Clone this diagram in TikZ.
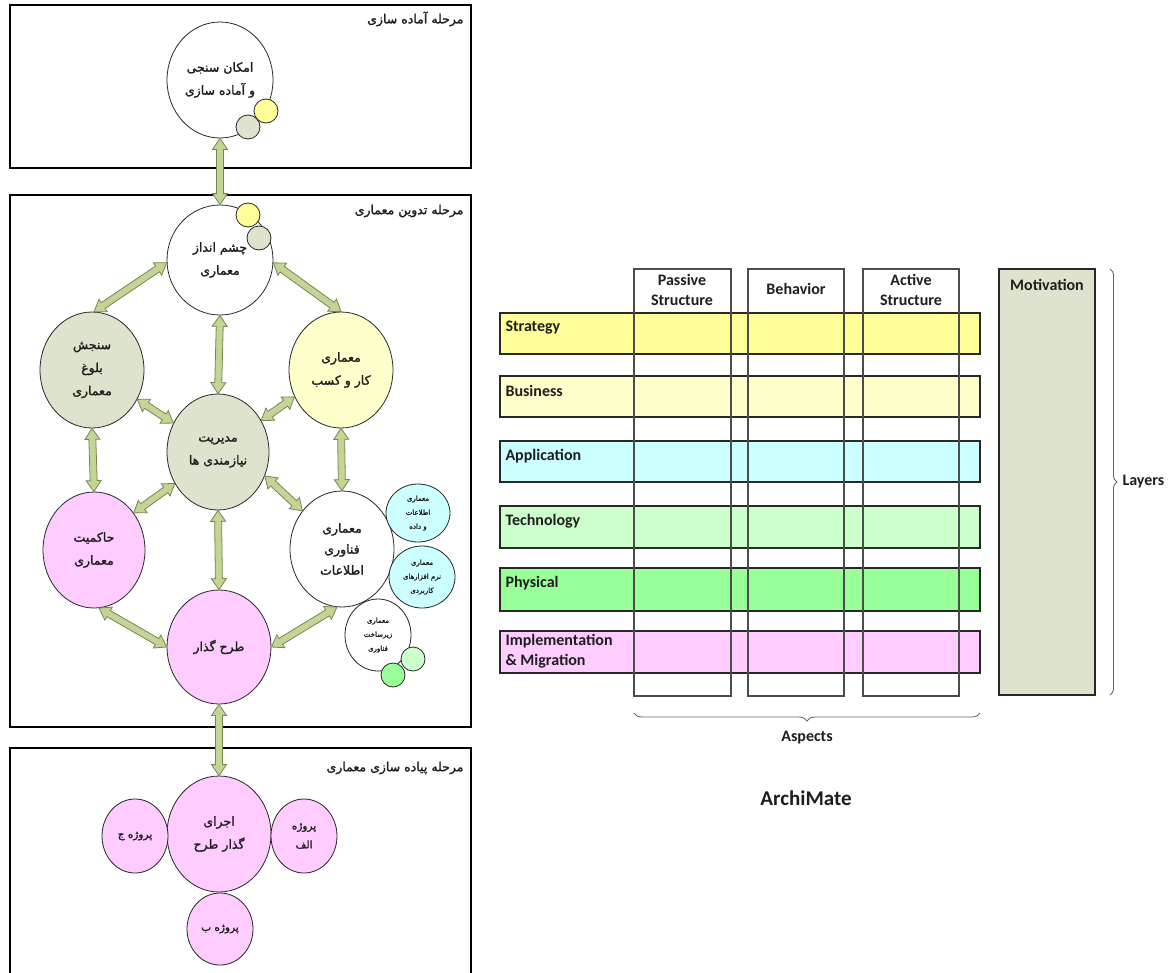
\documentclass[tikz,border=0pt]{standalone}
\usepackage{fontspec}
\setmainfont{Carlito}
\newfontfamily\fafont[Script=Arabic, FakeBold=1.6]{DejaVu Sans}
\TeXXeTstate=1
\usetikzlibrary{shapes.geometric,calc,decorations.pathreplacing}
\newcommand\rl[1]{\beginR #1\endR}
\definecolor{arrfill}{RGB}{196,212,150}
\definecolor{arrdraw}{RGB}{118,135,78}
\definecolor{olivegrey}{RGB}{222,227,205}
\definecolor{pinkc}{RGB}{255,204,255}
\definecolor{lyellow}{RGB}{255,255,204}
\definecolor{yellowc}{RGB}{255,255,153}
\definecolor{cyanc}{RGB}{204,255,255}
\definecolor{lgreen}{RGB}{204,255,204}
\definecolor{mgreen}{RGB}{153,255,153}
\definecolor{framec}{RGB}{40,40,40}
\definecolor{txt}{RGB}{30,30,30}
\newcommand\dblarrow[2]{%
  \path (#1) coordinate (arrA) (#2) coordinate (arrB);
  \coordinate (arrP) at ($(arrA)!11pt!(arrB)$);
  \coordinate (arrQ) at ($(arrB)!11pt!(arrA)$);
  \draw[bigarrow] (arrA) -- ($(arrP)!7.5pt!90:(arrB)$) -- ($(arrP)!3.5pt!90:(arrB)$)
    -- ($(arrQ)!3.5pt!-90:(arrA)$) -- ($(arrQ)!7.5pt!-90:(arrA)$) -- (arrB)
    -- ($(arrQ)!7.5pt!90:(arrA)$) -- ($(arrQ)!3.5pt!90:(arrA)$)
    -- ($(arrP)!3.5pt!-90:(arrB)$) -- ($(arrP)!7.5pt!-90:(arrB)$) -- cycle;}
\tikzset{
  bigarrow/.style={fill=arrfill, draw=arrdraw, line width=0.8pt, line join=miter},
  framebox/.style={draw=black, line width=1.2pt},
  circ/.style={ellipse, draw=black!85, line width=0.8pt, inner sep=0pt, align=center,
    text=txt, font=\fafont\fontsize{12.5}{23}\selectfont},
  tiny/.style={circ, font=\fafont\fontsize{7}{14}\selectfont},
  dot/.style={circle, draw=black!85, line width=0.8pt, inner sep=0pt, minimum size=24pt},
  phase/.style={anchor=east, text=txt, font=\fafont\fontsize{12.5}{14}\selectfont},
  rowbox/.style={draw=framec, line width=1.3pt},
  colbox/.style={draw=black!70, line width=1.1pt},
  rowlab/.style={anchor=west, text=txt, font=\bfseries\fontsize{16}{20}\selectfont},
  hdr/.style={align=center, text=txt, font=\bfseries\fontsize{16}{20}\selectfont},
  brc/.style={draw=black!60, line width=0.9pt, decorate}
}
\begin{document}
\begin{tikzpicture}[x=1pt,y=-1pt]
\useasboundingbox (0,0) rectangle (1169,972);
% phase frames
\draw[framebox] (10,5) rectangle (471,168);
\draw[framebox] (10,195) rectangle (471,727);
\draw[framebox] (10,980) |- (471,748) -- (471,980);
\node[phase] (ph1) at (467,19) {\rl{مرحله آماده سازی}};
\node[phase] (ph2) at (467,211) {\rl{مرحله تدوین معماری}};
\node[phase] (ph3) at (467,768) {\rl{مرحله پیاده سازی معماری}};
% circles
\node[circ, minimum width=106pt, minimum height=116pt] (c1) at (220,80) {\rl{امکان سنجی}\\\rl{و آماده سازی}};
\node[dot, fill=yellowc] (c1y) at (266,111) {};
\node[dot, fill=olivegrey] (c1g) at (248,127) {};
\node[circ, minimum width=106pt, minimum height=110pt] (c2) at (220,260) {\rl{چشم انداز}\\\rl{معماری}};
\node[dot, fill=yellowc] (c2y) at (248,215) {};
\node[dot, fill=olivegrey] (c2g) at (259,238) {};
\node[circ, fill=olivegrey, minimum width=104pt, minimum height=116pt] (sb) at (92,370) {\rl{سنجش}\\\rl{بلوغ}\\\rl{معماری}};
\node[circ, fill=lyellow, minimum width=104pt, minimum height=116pt] (kk) at (341,370) {\rl{معماری}\\\rl{کار و کسب}};
\node[circ, fill=olivegrey, minimum width=102pt, minimum height=116pt] (md) at (218,452) {\rl{مدیریت}\\\rl{نیازمندی ها}};
\node[circ, fill=pinkc, minimum width=102pt, minimum height=116pt] (hk) at (94,550) {\rl{حاکمیت}\\\rl{معماری}};
\node[circ, fill=white, minimum width=104pt, minimum height=116pt, font=\fafont\fontsize{12.5}{21}\selectfont] (ft) at (342,549) {\rl{معماری}\\\rl{فناوری}\\\rl{اطلاعات}};
\node[tiny, fill=cyanc, minimum width=64pt, minimum height=58pt] (cy1) at (418,513) {\rl{معماری}\\\rl{اطلاعات}\\\rl{و داده}};
\node[tiny, fill=cyanc, minimum width=66pt, minimum height=62pt] (cy2) at (422,577) {\rl{معماری}\\\rl{نرم افزارهای}\\\rl{کاربردی}};
\node[tiny, fill=white, minimum width=66pt, minimum height=72pt] (zs) at (378,635) {\rl{معماری}\\\rl{زیرساخت}\\\rl{فناوری}};
\node[dot, fill=lgreen] (g1) at (413,659) {};
\node[dot, fill=mgreen] (g2) at (393,675) {};
\node[circ, fill=pinkc, minimum width=104pt, minimum height=114pt] (tg) at (219,647) {\rl{طرح گذار}};
\node[circ, fill=pinkc, minimum width=104pt, minimum height=116pt] (ej) at (219,834) {\rl{اجرای}\\\rl{گذار طرح}};
\node[circ, fill=pinkc, minimum width=66pt, minimum height=74pt, font=\fafont\fontsize{10.5}{19}\selectfont] (pJ) at (135,836) {\rl{پروژه ج}};
\node[circ, fill=pinkc, minimum width=66pt, minimum height=74pt, font=\fafont\fontsize{10.5}{19}\selectfont] (pAlef) at (304,836) {\rl{پروژه}\\\rl{الف}};
\node[circ, fill=pinkc, minimum width=66pt, minimum height=72pt, font=\fafont\fontsize{10.5}{19}\selectfont] (pBe) at (220,929) {\rl{پروژه ب}};
% arrows
\dblarrow{c1.south}{c2.north}
\dblarrow{c2.183}{sb.88}
\dblarrow{c2.-3}{kk.90}
\dblarrow{c2.south}{md.north}
\dblarrow{sb.-33}{md.147}
\dblarrow{kk.210}{md.36}
\dblarrow{sb.south}{hk.north}
\dblarrow{kk.south}{ft.north}
\dblarrow{md.216}{hk.43}
\dblarrow{md.-27}{ft.136}
\dblarrow{md.south}{tg.north}
\dblarrow{hk.-85}{tg.180}
\dblarrow{ft.-95}{tg.0}
\dblarrow{tg.south}{ej.north}
% ArchiMate framework
\foreach \xa/\xb in {634/731, 748/844, 863/959}
  {\fill[white] (\xa,269) rectangle (\xb,696);}
\foreach \ya/\yb/\col/\lab in {313/354/yellowc/Strategy, 376/417/lyellow/Business,
    441/482/cyanc/Application, 506/548/lgreen/Technology, 568/611/mgreen/Physical}
  {\draw[rowbox, fill=\col] (500,\ya) rectangle (980,\yb);
   \node[rowlab] at (502,\ya+15) {\lab};}
\draw[rowbox, fill=pinkc] (500,631) rectangle (980,673);
\node[rowlab, anchor=north west, align=left] (implab) at (502,631) {Implementation\\\& Migration};
\foreach \xa/\xb in {634/731, 748/844, 863/959}
  {\draw[colbox] (\xa,269) rectangle (\xb,696);}
\node[hdr] (hp) at (682,290) {Passive\\Structure};
\node[hdr] (hb) at (796,289) {Behavior};
\node[hdr] (ha) at (911,290) {Active\\Structure};
\draw[rowbox, fill=olivegrey] (999,269) rectangle (1095,695);
\node[hdr] (mot) at (1047,285) {Motivation};
\draw[brc, decoration={brace, amplitude=8pt, mirror}] (634,713) -- (980,713);
\node[hdr] (asp) at (807,738) {Aspects};
\draw[brc, decoration={brace, amplitude=7pt}] (1110,269) -- (1110,695);
\node[rowlab] (lay) at (1119,482) {Layers};
\node[hdr, font=\bfseries\fontsize{21}{24}\selectfont] (am) at (806,798) {ArchiMate};
\end{tikzpicture}
\end{document}
